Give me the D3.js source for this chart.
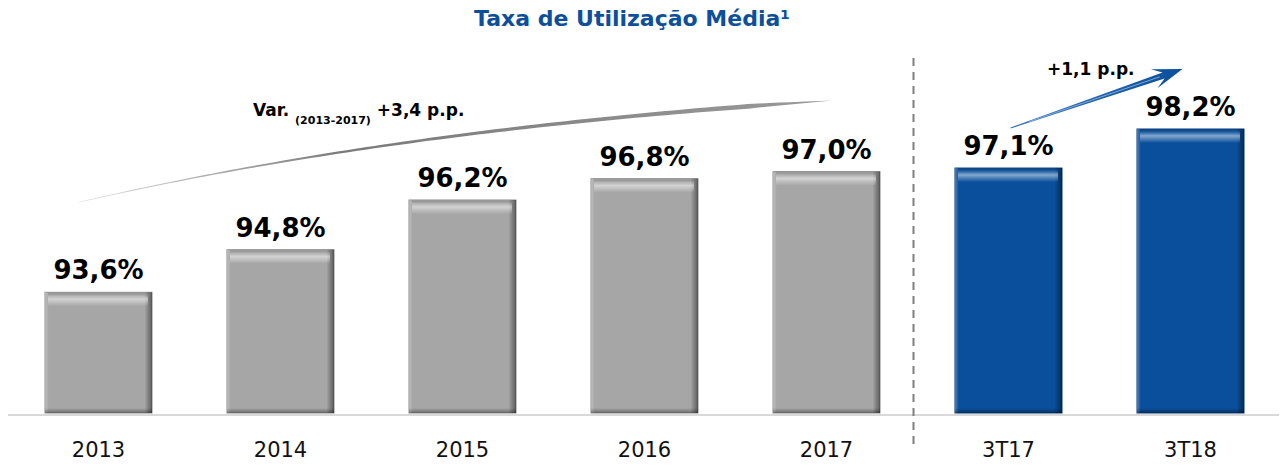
<!DOCTYPE html>
<meta charset="utf-8">
<html>
<head>
  <title>Taxa de Utilização Média</title>
  <script src="https://cdn.jsdelivr.net/npm/d3@7"></script>
  <style>
    body { margin: 0; background: #fff; }
    svg { display: block; font-family: "DejaVu Sans", Verdana, sans-serif; }
  </style>
</head>
<body>
  <svg id="svg" width="1280" height="466"></svg>
  <script>
    // data
    var categories = ["2013", "2014", "2015", "2016", "2017", "3T17", "3T18"];
    var values = [93.6, 94.8, 96.2, 96.8, 97.0, 97.1, 98.2];
    var groups = ["ano", "ano", "ano", "ano", "ano", "tri", "tri"];
    var titleText = "Taxa de Utilização Média¹";
    var varLabel = ["Var.", "(2013-2017)", "+3,4 p.p."];
    var triLabel = "+1,1 p.p.";

    var svg = d3.select("#svg");
    var baseY = 413;

    var x = d3.scaleBand()
      .domain(categories)
      .range([7.5, 1281.5])
      .paddingInner(0.412)
      .paddingOuter(0.206);

    var y = d3.scaleLinear()
      .domain([90.2, 98.2])
      .range([baseY, 129]);

    var bw = x.bandwidth();
    var fmt = function (v) { return v.toFixed(1).replace(".", ",") + "%"; };

    var colors = {
      ano: { base: "#a6a6a6", edge: "#8c8c8c" },
      tri: { base: "#0a4f9b", edge: "#073b78" }
    };

    var defs = svg.append("defs");

    // horizontal shading: light left edge, dark right edge
    var hg = defs.append("linearGradient").attr("id", "hshade");
    hg.append("stop").attr("offset", 0).attr("stop-color", "#fff").attr("stop-opacity", 0.3);
    hg.append("stop").attr("offset", 0.035).attr("stop-color", "#fff").attr("stop-opacity", 0);
    hg.append("stop").attr("offset", 0.93).attr("stop-color", "#000").attr("stop-opacity", 0);
    hg.append("stop").attr("offset", 1).attr("stop-color", "#000").attr("stop-opacity", 0.45);

    // top bevel highlight
    var tg = defs.append("linearGradient").attr("id", "tshade")
      .attr("x1", 0).attr("x2", 0).attr("y1", 0).attr("y2", 1);
    tg.append("stop").attr("offset", 0).attr("stop-color", "#000").attr("stop-opacity", 0.12);
    tg.append("stop").attr("offset", 0.2).attr("stop-color", "#fff").attr("stop-opacity", 0.15);
    tg.append("stop").attr("offset", 0.45).attr("stop-color", "#fff").attr("stop-opacity", 0.5);
    tg.append("stop").attr("offset", 1).attr("stop-color", "#fff").attr("stop-opacity", 0);

    // bottom shadow
    var bg = defs.append("linearGradient").attr("id", "bshade")
      .attr("x1", 0).attr("x2", 0).attr("y1", 0).attr("y2", 1);
    bg.append("stop").attr("offset", 0).attr("stop-color", "#000").attr("stop-opacity", 0);
    bg.append("stop").attr("offset", 1).attr("stop-color", "#000").attr("stop-opacity", 0.35);

    // arrow gradients
    var ga = defs.append("linearGradient").attr("id", "grayArrow")
      .attr("gradientUnits", "userSpaceOnUse")
      .attr("x1", 78).attr("x2", 835).attr("y1", 0).attr("y2", 0);
    ga.append("stop").attr("offset", 0).attr("stop-color", "#e0e0e0");
    ga.append("stop").attr("offset", 0.35).attr("stop-color", "#7a7a7a");
    ga.append("stop").attr("offset", 1).attr("stop-color", "#9a9a9a");

    var ba = defs.append("linearGradient").attr("id", "blueArrow");
    ba.append("stop").attr("offset", 0).attr("stop-color", "#3a78c0");
    ba.append("stop").attr("offset", 1).attr("stop-color", "#0a4f9b");

    // title
    svg.append("text")
      .attr("x", 632)
      .attr("y", 26)
      .attr("text-anchor", "middle")
      .attr("font-size", "22px")
      .attr("font-weight", "bold")
      .attr("fill", "#0d4f9b")
      .text(titleText);

    // baseline
    svg.append("line")
      .attr("x1", 8).attr("x2", 1279)
      .attr("y1", baseY + 2).attr("y2", baseY + 2)
      .attr("stroke", "#d9d9d9")
      .attr("stroke-width", 2);

    // bars
    var bars = svg.selectAll("g.bar")
      .data(categories)
      .enter()
      .append("g")
      .attr("class", "bar")
      .attr("transform", function (d) { return "translate(" + x(d) + ",0)"; });

    bars.append("rect")
      .attr("y", function (d, i) { return y(values[i]); })
      .attr("width", bw)
      .attr("height", function (d, i) { return baseY - y(values[i]); })
      .attr("fill", function (d, i) { return colors[groups[i]].base; })
      .attr("stroke", function (d, i) { return colors[groups[i]].edge; })
      .attr("stroke-width", 1);

    bars.append("rect")
      .attr("y", function (d, i) { return y(values[i]); })
      .attr("width", bw)
      .attr("height", function (d, i) { return baseY - y(values[i]); })
      .attr("fill", "url(#hshade)");

    bars.append("rect")
      .attr("x", 3)
      .attr("y", function (d, i) { return y(values[i]) + 1; })
      .attr("width", bw - 7)
      .attr("height", 13)
      .attr("fill", "url(#tshade)");

    bars.append("rect")
      .attr("y", baseY - 5)
      .attr("width", bw)
      .attr("height", 5)
      .attr("fill", "url(#bshade)");

    // value labels
    bars.append("text")
      .attr("x", bw / 2)
      .attr("y", function (d, i) { return y(values[i]) - 13; })
      .attr("text-anchor", "middle")
      .attr("font-size", "26px")
      .attr("font-weight", "bold")
      .attr("fill", "#000")
      .text(function (d, i) { return fmt(values[i]); });

    // category labels
    svg.selectAll("text.cat")
      .data(categories)
      .enter()
      .append("text")
      .attr("class", "cat")
      .attr("x", function (d) { return x(d) + bw / 2; })
      .attr("y", 457)
      .attr("text-anchor", "middle")
      .attr("font-size", "21px")
      .attr("fill", "#111")
      .text(function (d) { return d; });

    // dashed divider between annual and quarterly
    var divX = (x("2017") + bw + x("3T17")) / 2 - 4;
    svg.append("line")
      .attr("x1", divX).attr("x2", divX)
      .attr("y1", 58).attr("y2", 444)
      .attr("stroke", "#7f7f7f")
      .attr("stroke-width", 2)
      .attr("stroke-dasharray", "8,6");

    // curved gray arrow 2013 -> 2017
    var p0 = [x("2013") + bw / 2 - 20, y(values[0]) - 90];
    var p2 = [x("2017") + bw / 2 + 6, y(values[4]) - 71];
    var cp = [405, 127];
    function quad(t) {
      var a = (1 - t) * (1 - t), b = 2 * t * (1 - t), e = t * t;
      return [a * p0[0] + b * cp[0] + e * p2[0], a * p0[1] + b * cp[1] + e * p2[1]];
    }
    var upper = [], lower = [];
    var N = 80;
    for (var k = 0; k <= N; k++) {
      var t = k / N;
      var p = quad(t), q = quad(Math.min(1, t + 0.001)), r = quad(Math.max(0, t - 0.001));
      var dx = q[0] - r[0], dy = q[1] - r[1], len = Math.sqrt(dx * dx + dy * dy);
      var nx = -dy / len, ny = dx / len;
      var hw = 0.3 + 2.2 * t;
      if (t > 0.9) hw = hw * (1 - t) / 0.1;
      upper.push([p[0] - nx * hw, p[1] - ny * hw]);
      lower.push([p[0] + nx * hw, p[1] + ny * hw]);
    }
    svg.append("path")
      .attr("d", d3.line()(upper.concat(lower.reverse())) + "Z")
      .attr("fill", "url(#grayArrow)");

    // Var. label
    var vt = svg.append("text")
      .attr("x", 253)
      .attr("y", 116)
      .attr("font-weight", "bold")
      .attr("font-size", "17px")
      .attr("fill", "#000");
    vt.append("tspan").text(varLabel[0] + " ");
    vt.append("tspan").attr("font-size", "11px").attr("dy", 8).text(varLabel[1]);
    vt.append("tspan").attr("dy", -8).text(" " + varLabel[2]);

    // straight blue arrow 3T17 -> 3T18
    var s0 = [x("3T17") + bw / 2 + 2, y(values[5]) - 40];
    var s1 = [x("3T18") + bw / 2 - 8, y(values[6]) - 60];
    var ux = s1[0] - s0[0], uy = s1[1] - s0[1], L = Math.sqrt(ux * ux + uy * uy);
    ux /= L; uy /= L;
    var vx = -uy, vy = ux;
    function at(s, h) { return [s0[0] + ux * s + vx * h, s0[1] + uy * s + vy * h]; }
    var head = 24;
    var arrowPts = [
      at(0, -0.5), at(L - head + 4, -3.2), at(L - head - 6, -10), at(L, 0),
      at(L - head - 6, 10), at(L - head + 4, 3.2), at(0, 0.5)
    ];
    svg.append("path")
      .attr("d", d3.line()(arrowPts) + "Z")
      .attr("fill", "url(#blueArrow)");
    svg.append("path")
      .attr("d", d3.line()([at(20, 0), at(L - head, 0)]))
      .attr("stroke", "#9bbbe0")
      .attr("stroke-width", 0.8)
      .attr("fill", "none");

    svg.append("text")
      .attr("x", 1047)
      .attr("y", 75)
      .attr("font-weight", "bold")
      .attr("font-size", "17px")
      .attr("fill", "#000")
      .text(triLabel);
  </script>
</body>
</html>
